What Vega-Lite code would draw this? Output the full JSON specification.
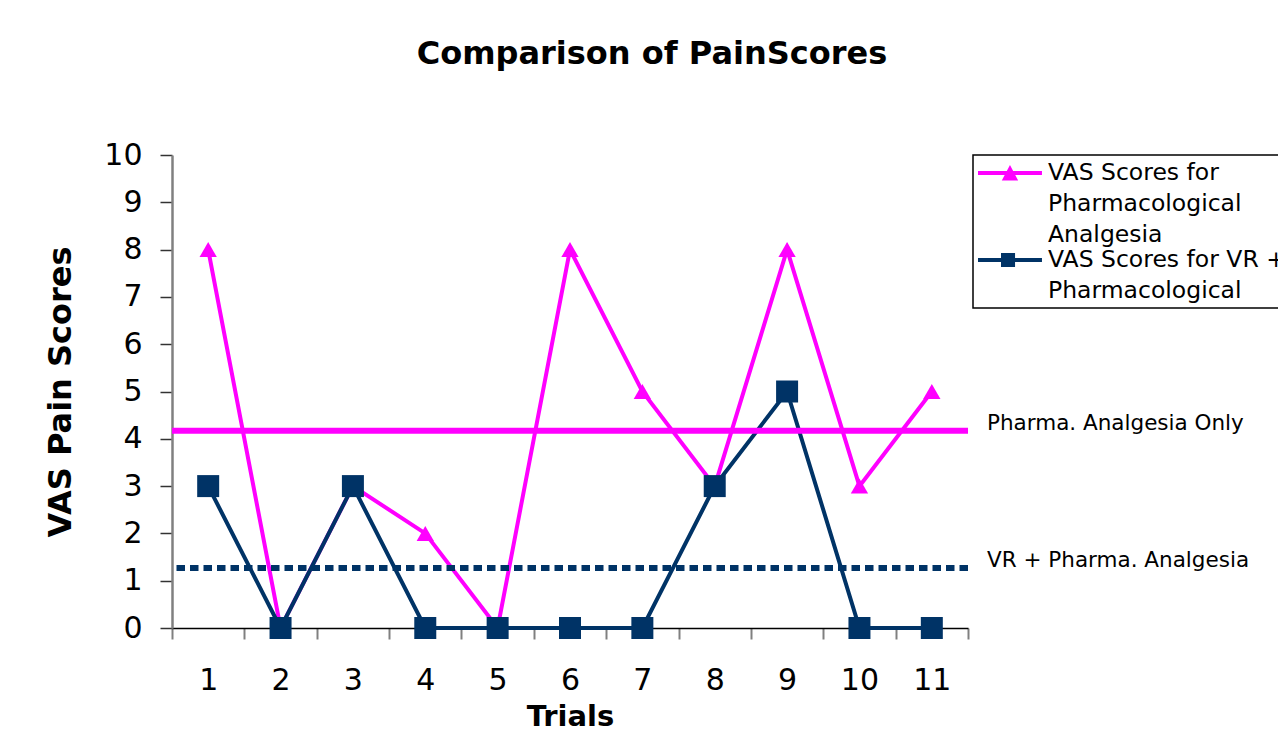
{
  "$schema": "https://vega.github.io/schema/vega-lite/v6.json",
  "width": 796,
  "height": 473,
  "autosize": {"type": "none"},
  "padding": {"left": 172, "top": 155, "right": 310, "bottom": 124},
  "background": "white",
  "config": {"view": {"stroke": null}, "font": "DejaVu Sans"},
  "title": {"text": "Comparison of PainScores", "font": "DejaVu Sans", "fontSize": 32, "fontWeight": "bold", "color": "black", "offset": 69, "dx": 82, "anchor": "middle"},
  "datasets": {
    "scores": [
      {"trial": 1, "series": "Pharma", "score": 8},
      {"trial": 2, "series": "Pharma", "score": 0},
      {"trial": 3, "series": "Pharma", "score": 3},
      {"trial": 4, "series": "Pharma", "score": 2},
      {"trial": 5, "series": "Pharma", "score": 0},
      {"trial": 6, "series": "Pharma", "score": 8},
      {"trial": 7, "series": "Pharma", "score": 5},
      {"trial": 8, "series": "Pharma", "score": 3},
      {"trial": 9, "series": "Pharma", "score": 8},
      {"trial": 10, "series": "Pharma", "score": 3},
      {"trial": 11, "series": "Pharma", "score": 5},
      {"trial": 1, "series": "VR", "score": 3},
      {"trial": 2, "series": "VR", "score": 0},
      {"trial": 3, "series": "VR", "score": 3},
      {"trial": 4, "series": "VR", "score": 0},
      {"trial": 5, "series": "VR", "score": 0},
      {"trial": 6, "series": "VR", "score": 0},
      {"trial": 7, "series": "VR", "score": 0},
      {"trial": 8, "series": "VR", "score": 3},
      {"trial": 9, "series": "VR", "score": 5},
      {"trial": 10, "series": "VR", "score": 0},
      {"trial": 11, "series": "VR", "score": 0}
    ],
    "means": [
      {"series": "Pharma", "mean": 4.17, "label": "Pharma. Analgesia Only"},
      {"series": "VR", "mean": 1.27, "label": "VR + Pharma. Analgesia"}
    ]
  },
  "encoding": {
    "x": {
      "field": "trial", "type": "ordinal",
      "scale": {"paddingInner": 0, "paddingOuter": 0},
      "axis": {
        "title": "Trials", "titleFontSize": 29, "titleFontWeight": "bold", "titleColor": "black", "titlePadding": 7,
        "labelAngle": 0, "labelFontSize": 30, "labelColor": "black", "labelPadding": 26,
        "tickSize": 11, "tickColor": "#808080", "tickWidth": 2, "tickBand": "extent",
        "domainColor": "black", "domainWidth": 1.5, "grid": false
      }
    },
    "y": {
      "field": "score", "type": "quantitative",
      "scale": {"domain": [0, 10], "nice": false},
      "axis": {
        "title": "VAS Pain Scores", "titleFontSize": 32, "titleFontWeight": "bold", "titleColor": "black", "titlePadding": 26,
        "values": [0, 1, 2, 3, 4, 5, 6, 7, 8, 9, 10],
        "labelFontSize": 30, "labelColor": "black", "labelPadding": 18,
        "tickSize": 12, "tickColor": "#333333", "tickWidth": 1.5,
        "domainColor": "#808080", "domainWidth": 2.5, "grid": false
      }
    }
  },
  "layer": [
    {
      "data": {"name": "scores"},
      "transform": [{"filter": "datum.series === 'Pharma'"}],
      "mark": {"type": "line", "strokeWidth": 4},
      "encoding": {
        "color": {
          "field": "series", "type": "nominal",
          "scale": {"domain": ["Pharma", "VR"], "range": ["#FF00FF", "#003366"]},
          "legend": {
            "orient": "none", "legendX": 801, "legendY": 0,
            "title": null, "padding": 5,
            "strokeColor": "black", "fillColor": "white",
            "symbolSize": 676, "symbolStrokeWidth": 0,
            "labelFont": "DejaVu Sans", "labelFontSize": 23.5, "labelColor": "black",
            "labelLimit": 1000, "labelOffset": 44, "rowPadding": 0,
            "labelExpr": "datum.value === 'Pharma' ? ['VAS Scores for', 'Pharmacological', 'Analgesia'] : ['VAS Scores for VR +', 'Pharmacological']",
            "encode": {
              "legend": {"update": {"strokeWidth": {"value": 1.5}}},
              "symbols": {"update": {
                "shape": {"signal": "datum.value === 'Pharma' ? 'M-1,-0.154H3.92V0.154H-1Z M0.83,0.58L1.46,-0.62L2.09,0.58Z' : 'M-1,-0.154H3.92V0.154H-1Z M0.77,-0.54H1.85V0.54H0.77Z'"},
                "fill": {"signal": "scale('color', datum.value)"},
                "fillOpacity": {"value": 1},
                "opacity": {"value": 1}
              }},
              "labels": {"update": {"lineHeight": {"value": 31}}}
            }
          }
        }
      }
    },
    {
      "data": {"name": "scores"},
      "transform": [{"filter": "datum.series === 'Pharma'"}],
      "mark": {"type": "point", "shape": "triangle-up", "filled": true, "size": 300, "opacity": 1, "color": "#FF00FF"}
    },
    {
      "data": {"name": "scores"},
      "transform": [{"filter": "datum.series === 'VR'"}],
      "mark": {"type": "line", "strokeWidth": 4},
      "encoding": {
        "color": {"field": "series", "type": "nominal", "legend": null}
      }
    },
    {
      "data": {"name": "scores"},
      "transform": [{"filter": "datum.series === 'VR'"}],
      "mark": {"type": "point", "shape": "square", "filled": true, "size": 484, "opacity": 1, "color": "#003366"}
    },
    {
      "data": {"name": "means"},
      "transform": [{"filter": "datum.series === 'Pharma'"}],
      "mark": {"type": "rule", "strokeWidth": 6, "color": "#FF00FF"},
      "encoding": {"x": null, "y": {"field": "mean", "type": "quantitative"}}
    },
    {
      "data": {"name": "means"},
      "transform": [{"filter": "datum.series === 'VR'"}],
      "mark": {"type": "rule", "strokeWidth": 6, "color": "#003366", "strokeDash": [8.5, 5]},
      "encoding": {"x": null, "y": {"field": "mean", "type": "quantitative"}}
    },
    {
      "data": {"name": "means"},
      "mark": {"type": "text", "align": "left", "baseline": "alphabetic", "dx": 19, "dy": -1, "fontSize": 21.5, "color": "black", "font": "DejaVu Sans"},
      "encoding": {
        "x": {"datum": 11, "type": "ordinal", "bandPosition": 1},
        "y": {"field": "mean", "type": "quantitative"},
        "text": {"field": "label"}
      }
    }
  ]
}
